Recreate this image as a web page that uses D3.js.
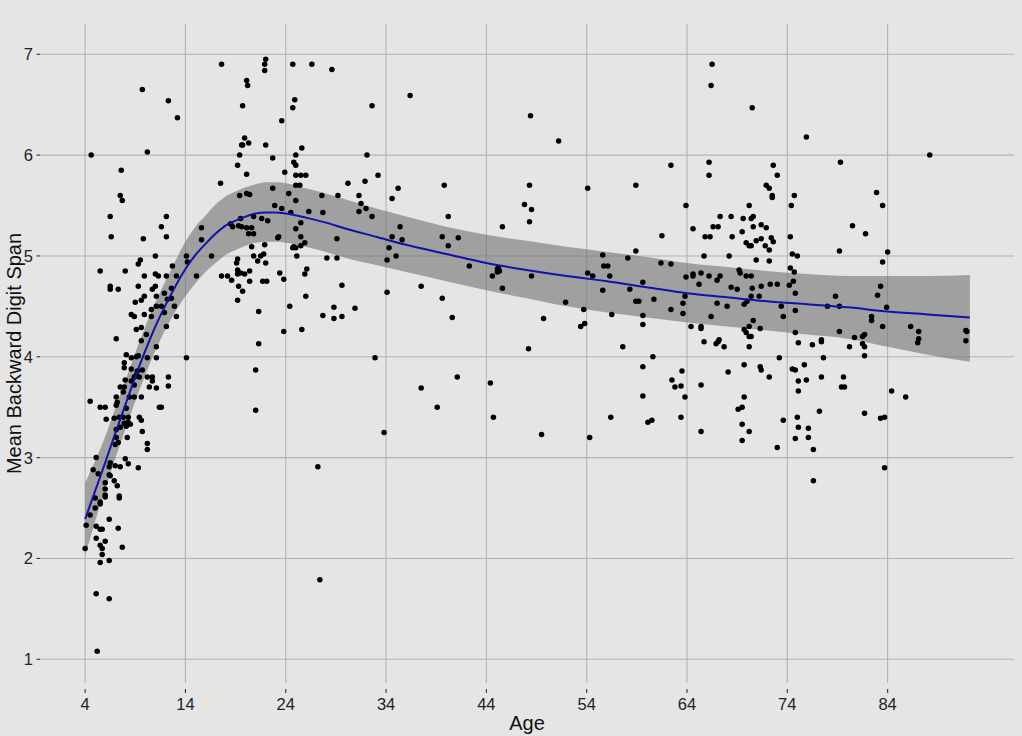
<!DOCTYPE html>
<html><head><meta charset="utf-8">
<script src="https://cdn.jsdelivr.net/npm/d3@7"></script>
<style>html,body{margin:0;padding:0;background:#e5e5e5;}svg{display:block;}</style>
</head><body><svg id="c" width="1022" height="736"></svg>
<script>
// ---------- data ----------
const ages = [
9.7,12.3,13.2,4.6,10.2,7.6,7.5,7.7,6.5,12.1,
11.6,6.6,9.8,12.1,11.0,14.1,14.2,9.5,9.3,5.5,
8.0,12.7,9.9,11.0,11.3,12.1,13.1,6.5,6.5,7.3,
9.3,11.0,10.7,12.6,11.9,9.9,11.1,9.6,9.0,12.2,
12.6,11.1,11.6,12.9,10.6,11.9,8.6,8.9,9.9,10.6,
13.1,9.6,9.1,12.1,10.1,7.1,9.6,11.1,
8.1,8.6,9.1,9.3,10.2,11.1,14.1,7.9,7.9,8.6,
9.2,9.7,9.1,9.4,8.9,10.2,10.7,12.3,8.0,8.6,
10.7,8.9,7.5,7.9,10.4,11.1,12.3,7.8,8.4,7.1,
8.9,9.6,4.5,7.2,7.1,8.1,5.5,6.0,11.4,11.6,
6.1,6.9,7.4,7.8,8.3,9.4,9.6,8.3,7.9,8.5,
7.5,8.1,7.1,9.7,7.1,8.2,7.3,7.0,10.2,10.2,
5.1,8.0,8.3,6.5,7.0,7.5,9.3,6.4,4.8,5.3,
6.4,6.5,6.9,7.2,6.0,6.0,6.0,6.0,7.4,7.4,
5.0,5.5,5.5,5.0,4.5,6.4,4.1,5.1,5.5,5.7,
7.3,5.1,6.0,4.0,5.5,5.7,7.7,5.7,5.5,6.4,
5.1,6.4,5.2,
17.6,22.0,21.9,21.9,24.7,26.6,28.6,20.1,20.2,24.9,
24.7,19.7,23.6,19.9,19.6,19.7,20.3,22.0,25.6,19.4,
22.7,25.0,19.2,24.8,25.0,23.9,20.1,25.0,25.5,26.0,
17.5,25.0,25.4,30.2,22.7,19.4,20.1,20.4,24.3,27.6,
29.2,25.0,22.9,23.6,26.3,27.7,24.5,20.8,21.6,22.2,
19.5,18.5,18.7,19.3,19.6,20.1,20.6,25.5,15.6,20.3,
20.8,25.0,25.5,23.2,23.3,29.1,15.6,25.9,25.5,24.8,
25.0,24.7,21.9,20.6,16.6,20.8,21.5,21.8,19.2,19.1,
21.2,22.0,25.1,28.1,29.1,15.1,17.6,18.2,18.6,19.2,
19.2,19.5,19.9,20.4,20.4,19.3,19.7,19.2,21.7,22.1,
23.4,23.8,26.1,25.9,29.6,26.0,21.3,24.4,28.8,27.7,
28.8,29.6,23.8,25.6,21.3,
21.0,21.0,27.2,27.4,
36.4,32.6,48.4,51.2,32.1,33.2,31.9,35.2,39.8,48.3,
31.3,34.6,31.5,31.3,32.0,32.6,47.8,48.5,48.3,40.2,
45.6,35.4,34.6,35.6,34.3,35.0,34.1,39.6,41.2,40.2,
42.3,44.6,45.1,45.3,45.1,45.2,48.5,45.6,51.9,30.9,
34.1,37.5,39.6,40.6,49.7,48.2,
32.9,41.1,37.5,44.4,39.1,44.7,33.8,49.5,
66.5,66.4,70.5,62.4,66.2,66.2,72.6,73.0,54.1,58.9,
71.9,72.2,72.5,72.5,74.7,74.4,63.9,70.2,67.3,68.4,
69.6,70.4,70.6,71.4,71.9,66.6,67.1,70.6,64.6,69.5,
61.5,65.8,66.3,68.5,72.4,74.3,70.9,71.4,69.9,70.2,
70.4,71.8,72.6,72.2,58.9,55.6,58.1,65.7,68.2,70.9,
72.2,74.5,75.0,61.4,62.4,55.7,56.1,74.3,74.7,54.1,
54.6,56.3,63.9,64.6,64.6,65.4,66.2,67.3,67.0,69.2,
69.3,69.9,70.4,59.6,65.2,68.4,69.0,70.5,71.4,72.3,
73.0,74.2,74.6,55.6,58.3,74.8,63.8,71.2,70.4,60.7,
58.9,59.2,63.6,67.0,68.0,69.7,70.0,73.4,53.7,62.4,
74.8,56.5,59.6,63.6,66.4,73.6,70.6,53.4,53.8,59.6,
64.4,65.4,65.4,70.2,71.3,69.7,69.9,74.8,70.2,70.4,
67.2,67.1,66.9,65.7,67.7,70.2,57.6,75.1,
60.6,73.2,59.6,63.5,62.5,62.8,63.4,65.4,68.1,69.7,
71.3,71.4,72.2,74.5,74.8,75.1,75.1,63.8,59.6,69.7,
69.1,69.5,56.4,60.1,60.5,63.4,69.5,70.2,65.4,69.5,
73.6,75.0,75.1,74.8,73.0,54.3,
75.9,79.3,88.2,82.9,83.5,80.5,81.8,79.2,84.0,83.5,
78.8,78.0,79.2,83.3,83.0,83.9,82.4,82.4,83.5,86.3,
87.1,87.1,87.0,91.8,91.9,91.8,79.2,80.7,81.5,81.7,
81.5,81.7,80.2,77.4,77.4,76.5,
77.6,81.7,75.7,75.9,77.4,79.6,79.4,79.7,84.4,85.8,
77.2,81.7,83.3,83.7,76.1,76.1,76.6,83.7,76.6
];
const spans = [
6.65,6.54,6.37,6.00,6.03,5.85,5.60,5.55,5.39,5.39,
5.29,5.19,5.17,5.19,5.00,5.00,4.94,4.96,4.92,4.85,
4.85,4.90,4.80,4.82,4.80,4.80,4.80,4.70,4.67,4.67,
4.70,4.70,4.67,4.68,4.63,4.60,4.60,4.56,4.54,4.57,
4.58,4.50,4.50,4.50,4.47,4.44,4.42,4.40,4.42,4.40,
4.40,4.29,4.27,4.30,4.22,4.18,4.16,4.10,
4.02,3.99,4.00,4.01,3.99,3.99,3.99,3.94,3.89,3.88,
3.86,3.87,3.82,3.80,3.80,3.80,3.80,3.80,3.77,3.76,
3.76,3.72,3.70,3.70,3.70,3.69,3.71,3.65,3.60,3.60,
3.60,3.60,3.56,3.55,3.52,3.49,3.50,3.50,3.50,3.50,
3.38,3.39,3.40,3.40,3.40,3.40,3.37,3.35,3.34,3.33,
3.30,3.31,3.28,3.26,3.20,3.20,3.15,3.13,3.14,3.08,
3.00,2.99,2.94,2.95,2.92,2.91,2.90,2.91,2.88,2.84,
2.83,2.82,2.77,2.72,2.75,2.69,2.63,2.61,2.62,2.60,
2.60,2.56,2.54,2.50,2.43,2.39,2.33,2.32,2.29,2.29,
2.30,2.20,2.17,2.10,2.13,2.10,2.11,2.04,1.96,1.98,
1.65,1.60,1.08,
6.90,6.95,6.90,6.84,6.90,6.90,6.85,6.74,6.69,6.55,
6.47,6.49,6.34,6.17,6.10,6.10,6.12,6.10,6.07,6.00,
5.97,6.00,5.90,5.93,5.90,5.83,5.81,5.80,5.80,5.80,
5.72,5.70,5.70,5.72,5.67,5.60,5.62,5.61,5.62,5.60,
5.60,5.55,5.50,5.47,5.44,5.43,5.43,5.39,5.37,5.35,
5.37,5.32,5.29,5.30,5.29,5.28,5.28,5.33,5.28,5.22,
5.22,5.27,5.19,5.18,5.19,5.17,5.16,5.13,5.10,5.09,
5.08,5.08,5.11,5.09,5.00,5.00,5.00,5.02,4.97,4.93,
4.95,4.93,5.00,4.98,4.98,4.80,4.80,4.80,4.76,4.86,
4.82,4.83,4.82,4.85,4.75,4.70,4.65,4.56,4.75,4.75,
4.83,4.77,4.87,4.82,4.71,4.60,4.45,4.50,4.49,4.41,
4.38,4.40,4.25,4.27,4.13,
3.87,3.47,2.91,1.79,
6.59,6.49,6.39,6.14,6.00,5.80,5.74,5.67,5.70,5.70,
5.60,5.57,5.52,5.44,5.47,5.39,5.51,5.46,5.34,5.39,
5.29,5.29,5.19,5.16,5.08,5.00,4.96,5.19,5.18,5.10,
4.90,4.80,4.87,4.85,4.84,4.88,4.80,4.68,4.54,4.48,
4.64,4.70,4.58,4.39,4.38,4.08,
3.99,3.80,3.69,3.74,3.50,3.40,3.25,3.23,
6.90,6.69,6.47,5.90,5.93,5.80,5.90,5.80,5.67,5.70,
5.70,5.67,5.60,5.58,5.60,5.50,5.50,5.50,5.39,5.39,
5.37,5.37,5.39,5.31,5.28,5.29,5.29,5.29,5.27,5.24,
5.20,5.19,5.19,5.19,5.18,5.19,5.15,5.17,5.13,5.10,
5.10,5.10,5.14,5.06,5.05,5.01,4.98,5.00,5.00,4.96,
4.95,5.02,5.00,4.93,4.92,4.90,4.90,4.88,4.84,4.83,
4.80,4.80,4.79,4.82,4.80,4.83,4.80,4.80,4.76,4.86,
4.83,4.80,4.80,4.74,4.72,4.69,4.67,4.68,4.70,4.72,
4.72,4.71,4.75,4.66,4.67,4.63,4.60,4.60,4.60,4.57,
4.55,4.55,4.53,4.53,4.50,4.52,4.55,4.50,4.47,4.47,
4.46,4.42,4.41,4.43,4.40,4.40,4.36,4.30,4.33,4.32,
4.30,4.30,4.28,4.30,4.28,4.27,4.24,4.24,4.20,4.20,
4.17,4.15,4.13,4.15,4.10,4.10,4.10,4.14,
4.00,3.99,3.90,3.86,3.77,3.70,3.71,3.72,3.85,3.92,
3.90,3.87,3.80,3.88,3.87,3.76,3.66,3.60,3.61,3.60,
3.48,3.50,3.40,3.35,3.37,3.40,3.33,3.26,3.26,3.17,
3.37,3.40,3.30,3.19,3.10,3.20,
6.18,5.93,6.00,5.63,5.50,5.30,5.22,5.05,5.04,4.94,
4.60,4.50,4.50,4.70,4.61,4.49,4.40,4.36,4.30,4.30,
4.25,4.18,4.14,4.26,4.25,4.16,4.25,4.19,4.20,4.22,
4.13,4.10,4.10,4.17,4.15,4.12,
3.99,4.01,3.92,3.77,3.80,3.80,3.70,3.70,3.66,3.60,
3.46,3.44,3.39,3.40,3.29,3.20,3.08,2.90,2.77
];
// smoothed fit with confidence band
const smoothAge  = [4,5,6,7,8,9,10,11,12,13,14,15,16,17,18,19,20,21,22,23,24,26,28,30,33,36,40,44,48,52,56,60,64,68,72,76,80,84,88,92.2];
const smoothFit  = [2.39,2.67,2.95,3.24,3.52,3.80,4.06,4.30,4.51,4.70,4.87,5.01,5.12,5.22,5.30,5.35,5.39,5.42,5.43,5.43,5.42,5.38,5.33,5.27,5.19,5.11,5.02,4.93,4.86,4.80,4.75,4.69,4.63,4.59,4.55,4.52,4.49,4.45,4.42,4.39];
const smoothLow  = [2.03,2.37,2.69,2.99,3.28,3.56,3.82,4.06,4.27,4.45,4.60,4.73,4.84,4.93,5.01,5.06,5.10,5.13,5.14,5.14,5.13,5.09,5.04,4.98,4.91,4.84,4.75,4.66,4.58,4.50,4.44,4.39,4.34,4.30,4.26,4.22,4.18,4.10,4.02,3.95];
const smoothHigh = [2.75,2.97,3.21,3.49,3.76,4.04,4.30,4.54,4.75,4.95,5.14,5.29,5.40,5.51,5.59,5.64,5.68,5.71,5.73,5.73,5.72,5.67,5.62,5.56,5.47,5.39,5.29,5.21,5.15,5.09,5.04,4.99,4.93,4.89,4.85,4.82,4.80,4.80,4.80,4.81];
const xTicks = [4,14,24,34,44,54,64,74,84];
const yTicks = [1,2,3,4,5,6,7];
const xTitle = "Age";
const yTitle = "Mean Backward Digit Span";

// ---------- drawing ----------
const svg = d3.select("#c");
const L=40, R=1014, T=24, B=683;
const x = d3.scaleLinear().domain([-0.5,96.6]).range([L,R]);
const y = d3.scaleLinear().domain([0.765,7.30]).range([B,T]);

svg.append("rect").attr("width",1022).attr("height",736).attr("fill","#e5e5e5");

const grid = svg.append("g").attr("stroke","#b3b3b3").attr("stroke-width",1.1);
grid.selectAll("line.v").data(xTicks).join("line")
  .attr("x1",d=>x(d)).attr("x2",d=>x(d)).attr("y1",T).attr("y2",B);
grid.selectAll("line.h").data(yTicks).join("line")
  .attr("x1",L).attr("x2",R).attr("y1",d=>y(d)).attr("y2",d=>y(d));

const sm = smoothAge.map((a,i)=>({a, f:smoothFit[i], lo:smoothLow[i], hi:smoothHigh[i]}));
svg.append("path").datum(sm)
  .attr("d", d3.area().x(d=>x(d.a)).y0(d=>y(d.lo)).y1(d=>y(d.hi)).curve(d3.curveMonotoneX))
  .attr("fill","#717171").attr("fill-opacity",0.6);

const pts = ages.map((a,i)=>({a, s:spans[i]}));
svg.append("g").selectAll("circle").data(pts).join("circle")
  .attr("cx",d=>x(d.a)).attr("cy",d=>y(d.s)).attr("r",2.75).attr("fill","#000");

svg.append("path").datum(sm)
  .attr("d", d3.line().x(d=>x(d.a)).y(d=>y(d.f)).curve(d3.curveMonotoneX))
  .attr("fill","none").attr("stroke","#1212aa").attr("stroke-width",2);

// axes
const font = "'Liberation Sans', Arial, sans-serif";
const ax = svg.append("g");
ax.selectAll("line.xt").data(xTicks).join("line")
  .attr("x1",d=>x(d)).attr("x2",d=>x(d)).attr("y1",689).attr("y2",693)
  .attr("stroke","#333").attr("stroke-width",1.1);
ax.selectAll("text.xl").data(xTicks).join("text")
  .attr("x",d=>x(d)).attr("y",710).attr("text-anchor","middle")
  .attr("font-family",font).attr("font-size",16.5).attr("fill","#222").text(d=>d);
ax.selectAll("line.yt").data(yTicks).join("line")
  .attr("x1",36.5).attr("x2",40).attr("y1",d=>y(d)).attr("y2",d=>y(d))
  .attr("stroke","#333").attr("stroke-width",1.1);
ax.selectAll("text.yl").data(yTicks).join("text")
  .attr("x",33).attr("y",d=>y(d)).attr("dy","0.36em").attr("text-anchor","end")
  .attr("font-family",font).attr("font-size",16.5).attr("fill","#222").text(d=>d);

svg.append("text").attr("x",(L+R)/2).attr("y",730).attr("text-anchor","middle")
  .attr("font-family",font).attr("font-size",20).attr("fill","#111").text(xTitle);
svg.append("text").attr("transform",`translate(21,${(T+B)/2}) rotate(-90)`)
  .attr("text-anchor","middle").attr("font-family",font).attr("font-size",20)
  .attr("fill","#111").text(yTitle);
</script></body></html>
